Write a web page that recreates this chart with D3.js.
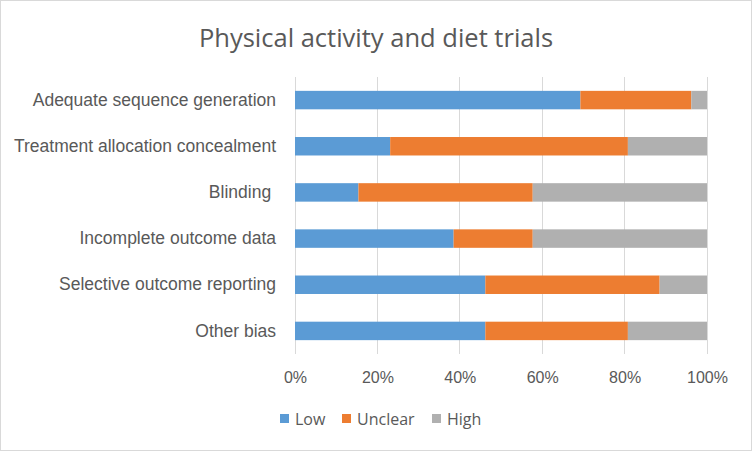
<!DOCTYPE html>
<html><head><meta charset="utf-8">
<script src="https://cdn.jsdelivr.net/npm/d3@7"></script>
<style>
html,body{margin:0;padding:0;background:#fff;}
svg{display:block;font-family:"Open Sans","Noto Sans",sans-serif;}
</style></head>
<body>
<svg id="c" width="752" height="451"></svg>
<script>
const categories = ["Adequate sequence generation","Treatment allocation concealment","Blinding ","Incomplete outcome data","Selective outcome reporting","Other bias"];
const seriesNames = ["Low","Unclear","High"];
const low     = [69.2, 23.1, 15.4, 38.5, 46.2, 46.2];
const unclear = [26.9, 57.7, 42.3, 19.2, 42.3, 34.6];
const high    = [3.8, 19.2, 42.3, 42.3, 11.5, 19.2];
const colors = ["#5b9bd5","#ed7d31","#b0b0b0"];
const tickValues = [0,0.2,0.4,0.6,0.8,1];
const title = "Physical activity and diet trials";

const svg = d3.select("#c");
svg.append("rect").attr("x",0.5).attr("y",0.5).attr("width",751).attr("height",450)
  .attr("fill","#fff").attr("stroke","#d9d9d9");

const rows = categories.map((c,i)=>({cat:c, Low:low[i], Unclear:unclear[i], High:high[i]}));
const stack = d3.stack().keys(seriesNames).offset(d3.stackOffsetExpand);
const layers = stack(rows);

const x = d3.scaleLinear().domain([0,1]).range([295,707]);
const y = d3.scaleBand().domain(categories).range([77,354]).paddingInner(0.6).paddingOuter(0.3);

// gridlines
svg.append("g").selectAll("line").data(tickValues).join("line")
  .attr("x1",d=>x(d)).attr("x2",d=>x(d)).attr("y1",77).attr("y2",354)
  .attr("stroke","#d9d9d9").attr("stroke-width",1).attr("shape-rendering","crispEdges");

// bars
svg.append("g").selectAll("g").data(layers).join("g")
  .attr("fill",(d,i)=>colors[i])
  .selectAll("rect").data(d=>d).join("rect")
  .attr("x",d=>x(d[0])).attr("width",d=>x(d[1])-x(d[0]))
  .attr("y",d=>y(d.data.cat)).attr("height",y.bandwidth());

// x axis
const xAxis = d3.axisBottom(x).tickValues(tickValues).tickFormat(d3.format(".0%")).tickSize(0).tickPadding(0);
const gx = svg.append("g").attr("transform","translate(0,378)").call(xAxis);
gx.select(".domain").remove();
gx.selectAll("text").attr("fill","#595959").attr("font-size","16px").attr("dy","0.71em").attr("y",-6);

// y axis
const yAxis = d3.axisLeft(y).tickSize(0).tickPadding(0);
const gy = svg.append("g").attr("transform","translate(276,0)").call(yAxis);
gy.select(".domain").remove();
gy.selectAll("text").attr("fill","#595959").attr("font-size","17.5px").style("white-space","pre");

// title
svg.append("text").attr("x",376).attr("y",47).attr("text-anchor","middle")
  .attr("fill","#595959").attr("font-size","25.5px").text(title);

// legend
const legX = [280, 342, 432];
const leg = svg.append("g");
seriesNames.forEach((s,i)=>{
  leg.append("rect").attr("x",legX[i]).attr("y",414).attr("width",9).attr("height",9).attr("fill",colors[i]);
  leg.append("text").attr("x",legX[i]+15).attr("y",419).attr("dy","0.35em")
    .attr("fill","#595959").attr("font-size","16px").text(s);
});
</script>
</body></html>
